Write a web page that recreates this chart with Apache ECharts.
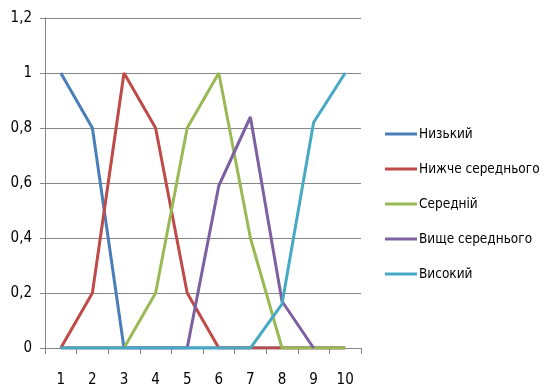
<!DOCTYPE html>
<html>
<head>
<meta charset="utf-8">
<script src="https://cdn.jsdelivr.net/npm/echarts@6/dist/echarts.min.js"></script>
<style>
  html, body { margin: 0; padding: 0; background: #fff; }
  #chart { width: 544px; height: 388px; }
</style>
</head>
<body>
<div id="chart"></div>
<script>
// Categories along the x axis
const categories = ['1', '2', '3', '4', '5', '6', '7', '8', '9', '10'];

// Membership levels per category
const seriesNames = ['Низький', 'Нижче середнього', 'Середній', 'Вище середнього', 'Високий'];
const low       = [1, 0.8, 0, 0, 0, 0, 0, 0, 0, 0];
const belowMid  = [0, 0.2, 1, 0.8, 0.2, 0, 0, 0, 0, 0];
const middle    = [0, 0, 0, 0.2, 0.8, 1, 0.4, 0, 0, 0];
const aboveMid  = [0, 0, 0, 0, 0, 0.59, 0.84, 0.17, 0, null];
const high      = [0, 0, 0, 0, 0, 0, 0, 0.16, 0.82, 1];

const colors = ['#4A7EBB', '#BE4B48', '#98B954', '#7D60A0', '#46AAC5'];
const values = [low, belowMid, middle, aboveMid, high];

const font = '"DejaVu Sans Condensed", "Liberation Sans Narrow", sans-serif';

const chart = echarts.init(document.getElementById('chart'), null, { renderer: 'canvas' });
chart.setOption({
  animation: false,
  color: colors,
  grid: { left: 45, top: 18, width: 316, height: 330, containLabel: false },
  legend: {
    orient: 'vertical',
    left: 385,
    top: 126,
    padding: 0,
    itemWidth: 32,
    itemHeight: 3,
    itemGap: 19,
    icon: 'rect',
    textStyle: { fontFamily: font, fontSize: 13.5, color: '#000', lineHeight: 16, padding: [0, 0, 0, -3] },
    data: seriesNames
  },
  xAxis: {
    type: 'category',
    data: categories,
    boundaryGap: true,
    axisLine: { lineStyle: { color: '#868686', width: 1 } },
    axisTick: { show: true, alignWithLabel: false, length: 6, lineStyle: { color: '#868686' } },
    axisLabel: { fontFamily: font, fontSize: 15, color: '#000', margin: 25 }
  },
  yAxis: {
    type: 'value',
    min: 0,
    max: 1.2,
    interval: 0.2,
    axisLine: { show: true, lineStyle: { color: '#868686', width: 1 } },
    axisTick: { show: true, length: 5, lineStyle: { color: '#868686' } },
    splitLine: { lineStyle: { color: '#868686', width: 1 } },
    axisLabel: {
      fontFamily: font, fontSize: 15, color: '#000', margin: 13,
      formatter: v => String(Math.round(v * 10) / 10).replace('.', ',')
    }
  },
  series: seriesNames.map((name, i) => ({
    name,
    type: 'line',
    data: values[i],
    symbol: 'none',
    connectNulls: false,
    lineStyle: { width: 3, color: colors[i] },
    itemStyle: { color: colors[i] }
  }))
});
</script>
</body>
</html>
